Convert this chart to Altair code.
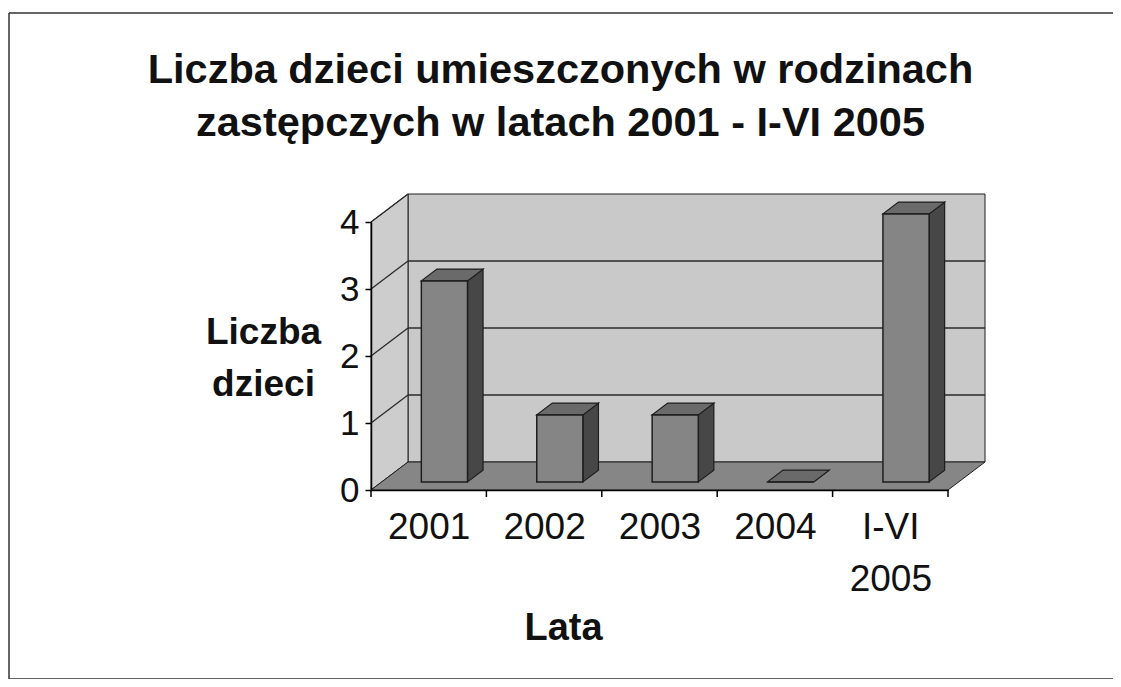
import altair as alt
import pandas as pd

# ---- data ----
categories = ["2001", "2002", "2003", "2004", "I-VI 2005"]
values = [3, 1, 1, 0, 4]
y_ticks = [0, 1, 2, 3, 4]
title_lines = ["Liczba dzieci umieszczonych w rodzinach",
               "zastępczych w latach 2001 - I-VI 2005"]
y_title = ["Liczba", "dzieci"]
x_title = "Lata"

# ---- pseudo-3D styling constants (data units of the scales) ----
N = len(categories)
YMAX = max(y_ticks)
W, H = 577, 268
DX = 37 / W * N          # depth of the box along x
DY = 28 / H * YMAX       # depth of the box along y
F0, F1 = 0.29, 0.71      # bar front / back depth fraction
HALF = 0.2               # half bar width in band units
SHIFT = 5 / W * N        # small extra horizontal shift of the bars
FONT = "Liberation Sans"

xs = alt.Scale(domain=[0, N], nice=False, zero=False)
ys = alt.Scale(domain=[0, YMAX], nice=False, zero=False)


def X(f):
    return alt.X(f, type="quantitative", scale=xs)


def Y(f):
    return alt.Y(f, type="quantitative", scale=ys, stack=None)


# walls
back_df = pd.DataFrame([{"x": DX, "x2": N + DX, "y": DY, "y2": YMAX + DY}])
left_df = pd.DataFrame([{"x": 0, "y": 0, "y2": YMAX},
                        {"x": DX, "y": DY, "y2": YMAX + DY}])
floor_df = pd.DataFrame([{"x": 0, "y": 0, "y2": 0},
                         {"x": DX, "y": 0, "y2": DY},
                         {"x": N, "y": 0, "y2": DY},
                         {"x": N + DX, "y": DY, "y2": DY}])
grid_df = pd.DataFrame([{"x": DX, "x2": N + DX, "y": k + DY} for k in y_ticks[1:-1]])
slant_df = pd.DataFrame([{"x": 0, "x2": DX, "y": k, "y2": k + DY} for k in y_ticks[1:]])

# bars
front_rows, side_rows, top_rows = [], [], []
for i, (c, v) in enumerate(zip(categories, values)):
    x1 = i + 0.5 - HALF + F0 * DX + SHIFT
    x2 = i + 0.5 + HALF + F0 * DX + SHIFT
    ddx = (F1 - F0) * DX
    lo, hi = F0 * DY, F1 * DY
    front_rows.append({"cat": c, "x": x1, "x2": x2, "y": lo, "y2": v + lo})
    side_rows += [{"cat": c, "x": x2, "y": lo, "y2": v + lo},
                  {"cat": c, "x": x2 + ddx, "y": hi, "y2": v + hi}]
    top_rows += [{"cat": c, "x": x1, "y": v + lo, "y2": v + lo},
                 {"cat": c, "x": x1 + ddx, "y": v + lo, "y2": v + hi},
                 {"cat": c, "x": x2, "y": v + lo, "y2": v + hi},
                 {"cat": c, "x": x2 + ddx, "y": v + hi, "y2": v + hi}]
front_df = pd.DataFrame(front_rows)
side_df = pd.DataFrame(side_rows)
top_df = pd.DataFrame(top_rows)
tick_df = pd.DataFrame({"x": list(range(N + 1))})
axis_df = pd.DataFrame({"x": [i + 0.5 for i in range(N)], "y": [0] * N})

STROKE = "#1e1e1e"

arr = "[" + ",".join("'" + c + "'" for c in categories) + "]"
label_expr = f"split({arr}[floor(datum.value)], ' ')"

# axes carrier layer (invisible points)
axes = alt.Chart(axis_df).mark_point(opacity=0).encode(
    x=alt.X("x:Q", scale=xs, axis=alt.Axis(
        values=[i + 0.5 for i in range(N)], labelExpr=label_expr, ticks=False,
        domain=True, domainColor="#000", domainWidth=1.5, grid=False,
        labelFont=FONT, labelFontSize=37, labelColor="#111", labelPadding=19,
        labelLineHeight=52, labelBaseline="top",
        title=x_title, titleFont=FONT, titleFontSize=38, titleFontWeight="bold",
        titleColor="#111", titleX=192, titleY=119, titleBaseline="top",
        titleAnchor="start", titleAlign="center", zindex=2)),
    y=alt.Y("y:Q", scale=ys, axis=alt.Axis(
        values=y_ticks, format="d", ticks=True, tickSize=6, tickColor="#000",
        tickWidth=1.5, domain=True, domainColor="#000", domainWidth=1.5, grid=False,
        labelFont=FONT, labelFontSize=35, labelColor="#111", labelPadding=6,
        title=y_title, titleFont=FONT, titleFontSize=37, titleFontWeight="bold",
        titleColor="#111", titleAngle=0, titleAlign="center", titleBaseline="top",
        titleX=-108, titleY=92, titleLineHeight=52, zindex=2)),
)

back = alt.Chart(back_df).mark_rect(fill="#c9c9c9", stroke=STROKE, strokeWidth=1).encode(
    x=X("x"), x2="x2", y=Y("y"), y2="y2")
left = alt.Chart(left_df).mark_area(orient="vertical", fill="#cdcdcd", stroke=STROKE,
                                    strokeWidth=1).encode(
    x=X("x"), y=Y("y"), y2="y2")
floor = alt.Chart(floor_df).mark_area(orient="vertical", fill="#868686", stroke=STROKE,
                                      strokeWidth=1).encode(
    x=X("x"), y=Y("y"), y2="y2")
grid = alt.Chart(grid_df).mark_rule(color="#2a2a2a", strokeWidth=1.3).encode(
    x=X("x"), x2="x2", y=Y("y"))
slant = alt.Chart(slant_df).mark_rule(color="#2a2a2a", strokeWidth=1.3).encode(
    x=X("x"), x2="x2", y=Y("y"), y2="y2")
side = alt.Chart(side_df).mark_area(orient="vertical", fill="#474747", stroke=STROKE,
                                    strokeWidth=1.2).encode(
    x=X("x"), y=Y("y"), y2="y2", detail="cat:N")
top = alt.Chart(top_df).mark_area(orient="vertical", fill="#6a6a6a", stroke=STROKE,
                                  strokeWidth=1.2).encode(
    x=X("x"), y=Y("y"), y2="y2", detail="cat:N")
front = alt.Chart(front_df).mark_rect(fill="#858585", stroke=STROKE, strokeWidth=1.5).encode(
    x=X("x"), x2="x2", y=Y("y"), y2="y2")
ticks = alt.Chart(tick_df).mark_rule(color="#000", strokeWidth=1.5, y2Offset=7).encode(
    x=X("x"), y=alt.datum(0, scale=ys), y2=alt.datum(0))

# outer border of the picture (top, left, bottom edges)
border_df = pd.DataFrame([{"edge": "top"}, {"edge": "left"}, {"edge": "bottom"}])
b_top = alt.Chart(alt.Data(values=[{}])).mark_rule(color="#333", strokeWidth=1.5).encode(
    x=alt.value(-362), x2=alt.value(800), y=alt.value(-209))
b_left = alt.Chart(alt.Data(values=[{}])).mark_rule(color="#333", strokeWidth=1.5).encode(
    x=alt.value(-362), y=alt.value(-209), y2=alt.value(457))
b_bottom = alt.Chart(alt.Data(values=[{}])).mark_rule(color="#333", strokeWidth=1.5).encode(
    x=alt.value(-362), x2=alt.value(800), y=alt.value(457))

chart = alt.layer(axes, back, left, floor, grid, slant, side, top, front, ticks,
                  b_top, b_left, b_bottom).properties(
    width=W, height=H,
    title=alt.TitleParams(text=title_lines, font=FONT, fontSize=41.5, fontWeight="bold",
                          color="#111", anchor="middle", frame="group", lineHeight=53,
                          dx=-99, dy=136),
    autosize=alt.AutoSizeParams(type="none"),
    padding={"left": 363, "top": 214, "right": 165, "bottom": 189},
).configure_view(stroke=None).configure(background="white")

chart.save("out.html", embed_options={"renderer": "svg", "actions": False})
